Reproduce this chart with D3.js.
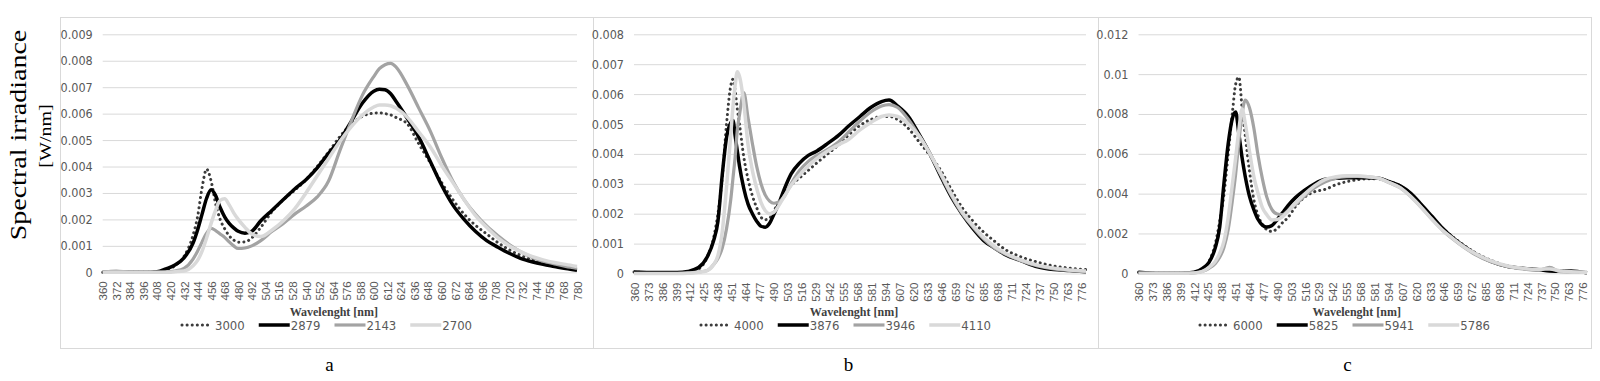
<!DOCTYPE html>
<html>
<head>
<meta charset="utf-8">
<script src="https://cdn.jsdelivr.net/npm/d3@7/dist/d3.min.js"></script>
<style>
  body { margin: 0; background: #fff; }
  svg { display: block; }
  .grid line { stroke: #d9d9d9; stroke-width: 1; }
  .grid text { font-family: "Liberation Sans Narrow", "Arial Narrow", "DejaVu Sans Condensed", sans-serif; font-size: 12.5px; fill: #595959; }
  .xlab text { font-family: "Liberation Sans", Arial, sans-serif; font-size: 11.5px; fill: #595959; }
  .legend text { font-family: "Liberation Sans Narrow", "Arial Narrow", "DejaVu Sans Condensed", sans-serif; font-size: 13px; fill: #595959; }
  .xtitle { font-family: "Liberation Serif", serif; font-weight: bold; font-size: 12px; fill: #404040; }
  .plabel { font-family: "Liberation Serif", serif; font-size: 19px; fill: #000; }
  .ytitle { font-family: "Liberation Serif", serif; fill: #000; }
</style>
</head>
<body>
<svg id="chart" width="1600" height="381"></svg>
<script>

// ---- panel a (warm white) ----
var wlA = [360,372,384,396,408,416,424,432,440,444,448,452,456,460,464,468,472,476,480,486,492,500,510,520,530,540,550,560,570,580,590,600,605,610,615,620,630,640,650,660,670,680,690,700,710,720,730,740,750,760,770,780];
var namesA = ["3000", "2879", "2143", "2700"];
var a3000 = [0,0,0,0,0.02e-3,0.1e-3,0.25e-3,0.6e-3,1.4e-3,2.1e-3,3.2e-3,3.9e-3,3.45e-3,2.6e-3,2.0e-3,1.65e-3,1.38e-3,1.22e-3,1.14e-3,1.15e-3,1.3e-3,1.7e-3,2.3e-3,2.75e-3,3.1e-3,3.5e-3,4.0e-3,4.55e-3,5.13e-3,5.6e-3,5.9e-3,6.02e-3,6.03e-3,6.0e-3,5.95e-3,5.85e-3,5.6e-3,4.85e-3,4.15e-3,3.4e-3,2.75e-3,2.2e-3,1.78e-3,1.45e-3,1.12e-3,0.85e-3,0.64e-3,0.48e-3,0.37e-3,0.28e-3,0.2e-3,0.12e-3];
var a2879 = [0,0,0,0,0.02e-3,0.13e-3,0.28e-3,0.55e-3,1.1e-3,1.6e-3,2.2e-3,2.8e-3,3.12e-3,2.9e-3,2.45e-3,2.1e-3,1.85e-3,1.68e-3,1.55e-3,1.48e-3,1.55e-3,1.95e-3,2.35e-3,2.75e-3,3.15e-3,3.5e-3,3.95e-3,4.5e-3,5.0e-3,5.7e-3,6.4e-3,6.85e-3,6.92e-3,6.9e-3,6.75e-3,6.45e-3,5.8e-3,5.1e-3,4.2e-3,3.3e-3,2.55e-3,2.0e-3,1.55e-3,1.2e-3,0.95e-3,0.72e-3,0.53e-3,0.4e-3,0.3e-3,0.22e-3,0.14e-3,0.08e-3];
var a2143 = [0,0.05e-3,0,0,0,0.01e-3,0.05e-3,0.15e-3,0.5e-3,0.8e-3,1.15e-3,1.48e-3,1.66e-3,1.58e-3,1.45e-3,1.32e-3,1.15e-3,1.0e-3,0.9e-3,0.92e-3,1.0e-3,1.2e-3,1.55e-3,1.85e-3,2.2e-3,2.5e-3,2.85e-3,3.45e-3,4.6e-3,5.7e-3,6.7e-3,7.4e-3,7.7e-3,7.85e-3,7.9e-3,7.75e-3,7.05e-3,6.2e-3,5.35e-3,4.35e-3,3.45e-3,2.75e-3,2.2e-3,1.75e-3,1.38e-3,1.05e-3,0.78e-3,0.57e-3,0.42e-3,0.32e-3,0.22e-3,0.15e-3];
var a2700 = [0,0,0,0,0,0,0.02e-3,0.05e-3,0.25e-3,0.45e-3,0.8e-3,1.3e-3,1.85e-3,2.35e-3,2.72e-3,2.78e-3,2.55e-3,2.25e-3,2.0e-3,1.7e-3,1.45e-3,1.35e-3,1.6e-3,1.95e-3,2.4e-3,3.0e-3,3.65e-3,4.3e-3,4.95e-3,5.5e-3,5.95e-3,6.25e-3,6.33e-3,6.33e-3,6.3e-3,6.2e-3,5.85e-3,5.3e-3,4.75e-3,4.05e-3,3.4e-3,2.75e-3,2.15e-3,1.7e-3,1.3e-3,1.0e-3,0.78e-3,0.6e-3,0.47e-3,0.37e-3,0.3e-3,0.22e-3];
var xTicksA = [360,372,384,396,408,420,432,444,456,468,480,492,504,516,528,540,552,564,576,588,600,612,624,636,648,660,672,684,696,708,720,732,744,756,768,780];
var yTicksA = [0,0.001,0.002,0.003,0.004,0.005,0.006,0.007,0.008,0.009];

// ---- panel b (neutral white) ----
var wlB = [360,380,400,410,420,428,434,438,442,446,450,452,454,456,458,462,466,470,474,478,482,486,490,495,500,506,514,522,530,540,550,560,570,580,590,597,605,615,625,635,645,655,665,675,685,695,705,720,735,750,765,780];
var namesB = ["4000", "3876", "3946", "4110"];
var b4000 = [0.05e-3,0.02e-3,0.03e-3,0.05e-3,0.15e-3,0.55e-3,1.2e-3,2.0e-3,3.2e-3,5.0e-3,6.3e-3,6.5e-3,6.1e-3,5.5e-3,5.0e-3,3.9e-3,3.15e-3,2.6e-3,2.2e-3,1.88e-3,1.8e-3,1.85e-3,2.1e-3,2.4e-3,2.68e-3,2.95e-3,3.2e-3,3.45e-3,3.7e-3,4.0e-3,4.3e-3,4.65e-3,4.95e-3,5.15e-3,5.25e-3,5.25e-3,5.15e-3,4.85e-3,4.4e-3,3.95e-3,3.45e-3,2.8e-3,2.2e-3,1.75e-3,1.38e-3,1.08e-3,0.8e-3,0.55e-3,0.38e-3,0.25e-3,0.18e-3,0.13e-3];
var b3876 = [0.05e-3,0.03e-3,0.03e-3,0.07e-3,0.2e-3,0.55e-3,1.1e-3,1.75e-3,3.3e-3,4.55e-3,5.05e-3,5.12e-3,4.6e-3,4.1e-3,3.6e-3,2.85e-3,2.32e-3,2.0e-3,1.75e-3,1.58e-3,1.55e-3,1.68e-3,1.98e-3,2.38e-3,2.85e-3,3.33e-3,3.7e-3,3.95e-3,4.1e-3,4.35e-3,4.62e-3,4.95e-3,5.25e-3,5.55e-3,5.75e-3,5.8e-3,5.6e-3,5.25e-3,4.65e-3,4.0e-3,3.25e-3,2.55e-3,1.98e-3,1.5e-3,1.1e-3,0.85e-3,0.63e-3,0.42e-3,0.22e-3,0.13e-3,0.1e-3,0.06e-3];
var b3946 = [0,0,0,0.02e-3,0.05e-3,0.1e-3,0.3e-3,0.5e-3,0.85e-3,1.5e-3,2.5e-3,3.2e-3,3.9e-3,4.8e-3,5.3e-3,6.05e-3,5.2e-3,4.35e-3,3.58e-3,3.0e-3,2.62e-3,2.42e-3,2.35e-3,2.4e-3,2.6e-3,3.0e-3,3.45e-3,3.75e-3,3.95e-3,4.15e-3,4.4e-3,4.75e-3,5.1e-3,5.4e-3,5.6e-3,5.65e-3,5.55e-3,5.15e-3,4.6e-3,4.0e-3,3.3e-3,2.6e-3,2.0e-3,1.55e-3,1.15e-3,0.85e-3,0.65e-3,0.42e-3,0.25e-3,0.15e-3,0.1e-3,0.06e-3];
var b4110 = [0,0,0,0.01e-3,0.04e-3,0.1e-3,0.3e-3,0.6e-3,1.4e-3,2.9e-3,4.7e-3,5.6e-3,6.3e-3,6.75e-3,6.6e-3,5.7e-3,4.3e-3,3.45e-3,2.85e-3,2.38e-3,2.1e-3,2.0e-3,2.05e-3,2.3e-3,2.6e-3,2.95e-3,3.3e-3,3.6e-3,3.85e-3,4.1e-3,4.3e-3,4.5e-3,4.8e-3,5.05e-3,5.25e-3,5.3e-3,5.25e-3,5.0e-3,4.6e-3,4.0e-3,3.35e-3,2.65e-3,2.05e-3,1.6e-3,1.2e-3,0.9e-3,0.68e-3,0.45e-3,0.28e-3,0.18e-3,0.12e-3,0.08e-3];
var xTicksB = [360,373,386,399,412,425,438,451,464,477,490,503,516,529,542,555,568,581,594,607,620,633,646,659,672,685,698,711,724,737,750,763,776];
var yTicksB = [0,0.001,0.002,0.003,0.004,0.005,0.006,0.007,0.008];

// ---- panel c (cool white) ----
var wlC = [360,380,400,412,420,426,432,436,440,444,448,451,454,457,460,464,468,472,476,480,485,490,495,500,507,515,525,535,545,555,565,575,585,595,605,615,625,635,645,655,665,675,690,705,720,735,745,755,765,780];
var namesC = ["6000", "5825", "5941", "5786"];
var c6000 = [0.05e-3,0,0,0.05e-3,0.2e-3,0.6e-3,1.5e-3,2.6e-3,3.95e-3,6.0e-3,8.1e-3,9.5e-3,9.85e-3,8.3e-3,6.9e-3,5.1e-3,3.7e-3,2.9e-3,2.45e-3,2.2e-3,2.1e-3,2.25e-3,2.55e-3,2.8e-3,3.35e-3,3.8e-3,4.1e-3,4.22e-3,4.45e-3,4.6e-3,4.7e-3,4.75e-3,4.75e-3,4.6e-3,4.4e-3,4.0e-3,3.4e-3,2.8e-3,2.25e-3,1.8e-3,1.4e-3,1.05e-3,0.65e-3,0.38e-3,0.25e-3,0.18e-3,0.15e-3,0.12e-3,0.1e-3,0.02e-3];
var c5825 = [0.05e-3,0,0,0.05e-3,0.25e-3,0.55e-3,1.3e-3,2.3e-3,4.5e-3,6.5e-3,7.8e-3,8.1e-3,7.0e-3,5.8e-3,4.85e-3,3.85e-3,3.2e-3,2.7e-3,2.42e-3,2.32e-3,2.4e-3,2.7e-3,3.05e-3,3.4e-3,3.8e-3,4.15e-3,4.5e-3,4.72e-3,4.77e-3,4.8e-3,4.8e-3,4.8e-3,4.77e-3,4.6e-3,4.4e-3,4.02e-3,3.45e-3,2.85e-3,2.25e-3,1.75e-3,1.35e-3,1.0e-3,0.6e-3,0.35e-3,0.25e-3,0.18e-3,0.12e-3,0.1e-3,0.12e-3,0.02e-3];
var c5941 = [0,0,0,0.02e-3,0.1e-3,0.25e-3,0.5e-3,0.8e-3,1.3e-3,2.2e-3,3.7e-3,5.0e-3,6.6e-3,8.0e-3,8.7e-3,8.3e-3,7.3e-3,5.9e-3,4.75e-3,3.85e-3,3.2e-3,2.98e-3,2.95e-3,3.15e-3,3.45e-3,3.85e-3,4.3e-3,4.6e-3,4.78e-3,4.85e-3,4.87e-3,4.84e-3,4.77e-3,4.55e-3,4.3e-3,3.85e-3,3.3e-3,2.7e-3,2.15e-3,1.7e-3,1.3e-3,0.95e-3,0.58e-3,0.35e-3,0.22e-3,0.15e-3,0.3e-3,0.08e-3,0.07e-3,0.05e-3];
var c5786 = [0,0,0,0.02e-3,0.1e-3,0.3e-3,0.6e-3,1.0e-3,1.6e-3,2.8e-3,4.5e-3,5.8e-3,7.2e-3,8.25e-3,7.5e-3,6.1e-3,4.85e-3,4.0e-3,3.3e-3,2.95e-3,2.68e-3,2.7e-3,2.85e-3,3.1e-3,3.52e-3,3.95e-3,4.4e-3,4.72e-3,4.85e-3,4.9e-3,4.9e-3,4.85e-3,4.77e-3,4.55e-3,4.3e-3,3.85e-3,3.3e-3,2.7e-3,2.15e-3,1.72e-3,1.32e-3,1.0e-3,0.62e-3,0.38e-3,0.25e-3,0.2e-3,0.22e-3,0.12e-3,0.08e-3,0.05e-3];
var xTicksC = xTicksB;
var yTicksC = [0,0.002,0.004,0.006,0.008,0.01,0.012];

// line looks, in series order: dotted, black, mid grey, light grey
var looks = [
    { stroke: "#3c3c3c", width: 3, dash: "0.1,5", cap: "round" },
    { stroke: "#000000", width: 3.5, dash: null, cap: "butt" },
    { stroke: "#a3a3a3", width: 3.2, dash: null, cap: "butt" },
    { stroke: "#d9d9d9", width: 3.5, dash: null, cap: "butt" }
];

var svg = d3.select("#chart");

var panels = [
    { frame: [60, 17, 593, 348], plot: [102.7, 34.3, 577, 272.3], ymax: 0.009,
      wl: wlA, series: [a3000, a2879, a2143, a2700], names: namesA,
      xticks: xTicksA, yticks: yTicksA, label: "a" },
    { frame: [593, 17, 1098, 348], plot: [634, 34.3, 1086, 273.5], ymax: 0.008,
      wl: wlB, series: [b4000, b3876, b3946, b4110], names: namesB,
      xticks: xTicksB, yticks: yTicksB, label: "b" },
    { frame: [1098, 17, 1591, 348], plot: [1138.5, 34.3, 1587, 273.3], ymax: 0.012,
      wl: wlC, series: [c6000, c5825, c5941, c5786], names: namesC,
      xticks: xTicksC, yticks: yTicksC, label: "c" }
];

function fmt(d) {
    return d === 0 ? "0" : String(+d.toFixed(4));
}

function applyLook(sel, lk) {
    sel.attr("fill", "none")
        .attr("stroke", lk.stroke)
        .attr("stroke-width", lk.width)
        .attr("stroke-linecap", lk.cap)
        .attr("stroke-linejoin", "round");
    if (lk.dash) sel.attr("stroke-dasharray", lk.dash);
    return sel;
}

function drawPanel(p) {
    var g = svg.append("g");

    g.append("rect")
        .attr("x", p.frame[0] + 0.5)
        .attr("y", p.frame[1] + 0.5)
        .attr("width", p.frame[2] - p.frame[0])
        .attr("height", p.frame[3] - p.frame[1])
        .attr("fill", "none")
        .attr("stroke", "#d9d9d9");

    var x = d3.scaleLinear().domain([360, 780]).range([p.plot[0], p.plot[2]]);
    var y = d3.scaleLinear().domain([0, p.ymax]).range([p.plot[3], p.plot[1]]);

    // gridlines + value labels
    var gy = g.append("g")
        .attr("class", "grid")
        .attr("transform", "translate(" + p.plot[0] + ",0)")
        .call(d3.axisLeft(y)
            .tickValues(p.yticks)
            .tickSize(-(p.plot[2] - p.plot[0]))
            .tickPadding(10)
            .tickFormat(fmt));
    gy.select(".domain").remove();

    // wavelength labels, rotated
    var gx = g.append("g")
        .attr("class", "xlab")
        .attr("transform", "translate(0," + p.plot[3] + ")")
        .call(d3.axisBottom(x).tickValues(p.xticks).tickSize(0));
    gx.select(".domain").remove();
    gx.selectAll("text")
        .attr("transform", "rotate(-90)")
        .attr("x", -9)
        .attr("y", 0)
        .attr("dy", "0.35em")
        .style("text-anchor", "end");

    var line = d3.line()
        .x(function(d, i) { return x(p.wl[i]); })
        .y(function(d) { return y(d); })
        .curve(d3.curveMonotoneX);

    p.series.forEach(function(vals, i) {
        applyLook(g.append("path").datum(vals).attr("d", line), looks[i]);
    });

    var midPlot = (p.plot[0] + p.plot[2]) / 2;
    var midFrame = (p.frame[0] + p.frame[2]) / 2;

    g.append("text")
        .attr("class", "xtitle")
        .attr("x", midPlot - 6)
        .attr("y", 316)
        .style("text-anchor", "middle")
        .text("Wavelenght [nm]");

    // legend
    var lg = g.append("g").attr("class", "legend");
    var cx = 0;
    p.names.forEach(function(n, i) {
        var it = lg.append("g").attr("transform", "translate(" + cx + ",0)");
        applyLook(it.append("line").attr("x1", i === 0 ? 1 : 0).attr("x2", i === 0 ? 28 : 31).attr("y1", 0).attr("y2", 0), looks[i]);
        var t = it.append("text").attr("x", i === 0 ? 34 : 32).attr("dy", "0.35em").text(n);
        cx += (i === 0 ? 34 : 32) + t.node().getComputedTextLength() + 14;
    });
    cx -= 14;
    lg.attr("transform", "translate(" + (midFrame - cx / 2) + ",325)");

    g.append("text")
        .attr("class", "plabel")
        .attr("x", midFrame + 3)
        .attr("y", 371)
        .style("text-anchor", "middle")
        .text(p.label);
}

panels.forEach(drawPanel);

// shared y title
svg.append("text")
    .attr("class", "ytitle")
    .attr("transform", "translate(26,135) rotate(-90) scale(1,0.82)")
    .style("font-size", "28px")
    .style("text-anchor", "middle")
    .text("Spectral irradiance");

svg.append("text")
    .attr("class", "ytitle")
    .attr("transform", "translate(51,136) rotate(-90) scale(1,0.8)")
    .style("font-size", "20px")
    .style("text-anchor", "middle")
    .text("[W/nm]");

</script>
</body>
</html>
